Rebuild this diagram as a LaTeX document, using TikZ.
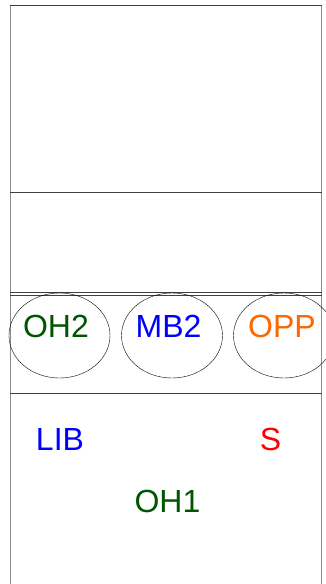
\documentclass[tikz,border=0pt]{standalone}
\usepackage{fontspec}
\setmainfont{Liberation Sans}
\usetikzlibrary{shapes.geometric}
\definecolor{darkgreen}{RGB}{0,85,0}
\definecolor{opporange}{RGB}{255,102,0}

\begin{document}
\begin{tikzpicture}[x=1pt, y=-1pt,
  sideline/.style={draw=black!45, line width=1pt},
  crossline/.style={draw=black!75, line width=1pt},
  spot/.style={ellipse, draw, thin, minimum width=101pt, minimum height=85pt, inner sep=0pt},
  lbl/.style={anchor=base, inner sep=0pt, font=\fontsize{32}{36}\selectfont}
]
  \useasboundingbox (0,0) rectangle (326,584);
  % court lines
  \draw[sideline] (10,5) -- (10,584);
  \draw[sideline] (321.5,5) -- (321.5,584);
  \draw[crossline] (10,5) -- (321.5,5);
  \draw[crossline] (10,192) -- (321.5,192);
  \draw[crossline] (10,292.5) -- (321.5,292.5);
  \draw[crossline] (10,295.5) -- (321.5,295.5);
  \draw[crossline] (10,393) -- (321.5,393);
  % front row spots
  \begin{scope}
    \clip (0,0) rectangle (326,584);
    \node[spot] (spotOH2) at (59.5,335.5) {};
    \node[spot] (spotMB2) at (172,335.5) {};
    \node[spot] (spotOPP) at (284,335.5) {};
  \end{scope}
  \node[lbl, darkgreen] (OH2) at (56,337) {OH2};
  \node[lbl, blue] (MB2) at (168.5,337) {MB2};
  \node[lbl, opporange] (OPP) at (282,337) {OPP};
  % back row
  \node[lbl, blue] (LIB) at (60,450) {LIB};
  \node[lbl, red] (S) at (270.5,450) {S};
  \node[lbl, darkgreen] (OH1) at (167.5,512) {OH1};
\end{tikzpicture}
\end{document}
